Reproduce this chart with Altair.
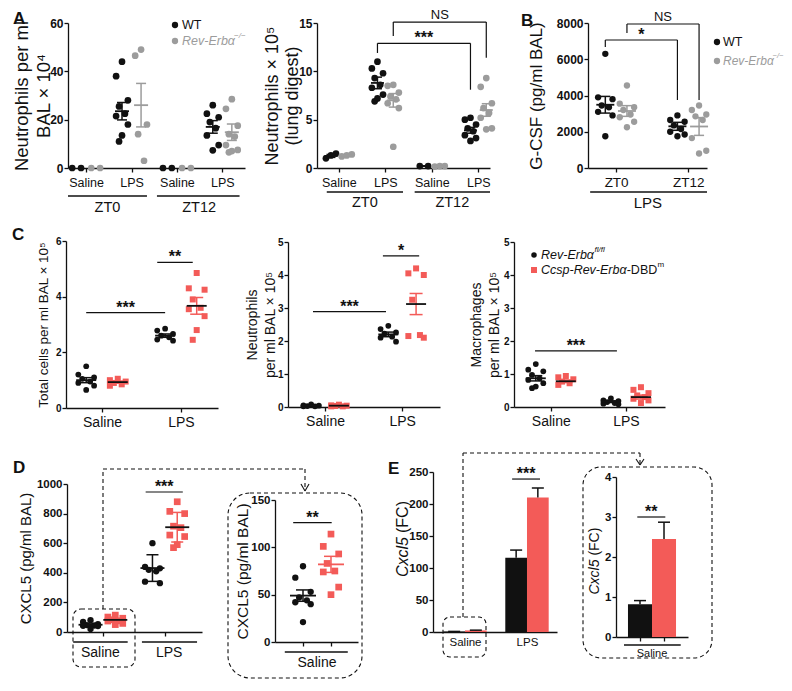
import altair as alt
import pandas as pd

FONT = "Liberation Sans"
INK = "#111111"
GREY = "#9c9c9c"
RED = "#f35b58"
ONE = pd.DataFrame({"k": [0]})
CW, CH = 776, 675          # canvas (page minus 8px margin each side)
OX, OY = 8, 8

# ---------------- data ----------------
A1_LABELS = ["Saline", "LPS", "Saline", "LPS"]
A1_WT = [[0, 0], [44, 38, 28, 25.5, 22.5, 21.5, 18, 13.5, 11], [0, 0],
         [26, 22.5, 21, 19, 16.5, 13.5, 9.5, 7.3]]
A1_KO = [[0, 0], [49, 46.5, 18, 14, 3], [0, 0],
         [28.5, 24.5, 17.5, 14, 13, 9.5, 7.5, 7, 6.5]]
A1_WT_MEAN = [0, 23.5, 0, 17.0]
A1_WT_SEM = [0, 3.6, 0, 2.6]
A1_KO_MEAN = [0, 26.0, 0, 14.8]
A1_KO_SEM = [0, 9.0, 0, 3.4]

A2_WT = [[1.0, 1.3, 1.5], [11.0, 10.3, 9.8, 9.3, 8.6, 8.3, 7.6, 7.2, 6.9], [0.2, 0.2],
         [5.2, 5.0, 4.5, 4.1, 3.8, 3.4, 3.1, 2.8]]
A2_KO = [[1.2, 1.3, 1.4], [8.6, 8.5, 7.8, 7.4, 7.1, 6.7, 6.2, 2.2], [0.15, 0.2, 0.2],
         [9.3, 8.4, 6.7, 6.2, 5.7, 5.2, 4.1, 4.0]]
A2_WT_MEAN = [1.25, 8.8, 0.2, 3.9]
A2_WT_SEM = [0.15, 0.6, 0.0, 0.3]
A2_KO_MEAN = [1.3, 7.0, 0.18, 6.0]
A2_KO_SEM = [0.05, 0.7, 0.0, 0.65]

B_LABELS = ["ZT0", "ZT12"]
B_WT = [[6300, 3900, 3800, 3450, 3350, 3100, 2900, 1750],
        [2900, 2650, 2550, 2350, 2150, 2000, 1850, 1750]]
B_KO = [[4550, 3550, 3350, 3200, 2950, 2800, 2550, 2250],
        [3450, 3200, 2950, 2850, 2650, 1650, 950, 800]]
B_WT_MEAN = [3490, 2300]
B_WT_SEM = [460, 220]
B_KO_MEAN = [3145, 2290]
B_KO_SEM = [295, 490]

C_LABELS = ["Saline", "LPS"]
C1_WT = [[1.5, 1.2, 1.1, 1.05, 0.95, 0.9, 0.8, 0.65], [2.85, 2.78, 2.66, 2.6, 2.54, 2.46, 2.42]]
C1_KO = [[1.05, 1.0, 0.95, 0.9, 0.85, 0.8], [4.85, 4.3, 4.25, 3.9, 3.6, 3.55, 3.3, 2.8, 2.45]]
C1_WT_MEAN = [1.0, 2.6]
C1_WT_SEM = [0.09, 0.06]
C1_KO_MEAN = [0.93, 3.67]
C1_KO_SEM = [0.04, 0.3]

C2_WT = [[0.08, 0.05, 0.04, 0.03, 0.02, 0.02], [2.46, 2.36, 2.26, 2.22, 2.13, 2.1, 1.98]]
C2_KO = [[0.07, 0.05, 0.04, 0.03, 0.02, 0.02], [4.2, 4.05, 4.0, 3.25, 2.18, 2.15, 2.1]]
C2_WT_MEAN = [0.04, 2.2]
C2_WT_SEM = [0.01, 0.07]
C2_KO_MEAN = [0.04, 3.12]
C2_KO_SEM = [0.01, 0.32]

C3_WT = [[1.3, 1.13, 1.08, 0.97, 0.87, 0.82, 0.72, 0.62, 0.57], [0.26, 0.2, 0.18, 0.15, 0.12, 0.1, 0.08]]
C3_KO = [[0.94, 0.9, 0.84, 0.77, 0.72, 0.67], [0.6, 0.52, 0.42, 0.35, 0.3, 0.25, 0.2, 0.12]]
C3_WT_MEAN = [0.87, 0.16]
C3_WT_SEM = [0.08, 0.025]
C3_KO_MEAN = [0.78, 0.3]
C3_KO_SEM = [0.04, 0.06]

D_WT_SAL = [80, 68, 53, 47, 44, 42, 40, 21]
D_KO_SAL = [114, 101, 93, 83, 75, 74, 58, 50]
D_WT_LPS = [600, 440, 430, 420, 410, 340, 330]
D_KO_LPS = [880, 815, 800, 715, 705, 655, 645, 590, 570]
D_WT_MEAN = [49, 432]
D_WT_ERR = [6, 90]
D_KO_MEAN = [82, 708]
D_KO_ERR = [8.5, 100]

E_LABELS = ["Saline", "LPS"]
E_WT = [0.82, 116]
E_WT_ERR = [0.09, 12]
E_KO = [2.45, 210]
E_KO_ERR = [0.42, 15]


# ---------------- helpers ----------------
def frame(x0, y0, x1, y1):
    return (x0 - OX, y0 - OY, x1 - OX, y1 - OY)


JIT = [0.0, -1.0, 1.0, -0.5, 0.5, -1.0, 1.0, 0.0, -0.5, 0.5]


def spread_x(vals, c, s):
    n = len(vals)
    if n == 2:
        pat = [-0.75, 0.75]
    elif n == 3:
        pat = [-0.9, 0.0, 0.9]
    else:
        order = sorted(range(n), key=lambda i: -vals[i])
        pat = [0.0] * n
        for r, i in enumerate(order):
            pat[i] = JIT[r % len(JIT)]
    return [c + p * s for p in pat]


def pts_df(groups, sign, goff, spread):
    rows = []
    for gi, vals in enumerate(groups):
        c = gi + sign * goff
        for xv, yv in zip(spread_x(vals, c, spread), vals):
            rows.append({"x": xv, "y": yv})
    return pd.DataFrame(rows)


def stats_df(means, errs, sign, goff, mhw, chw):
    rows = []
    for gi, (m, e) in enumerate(zip(means, errs)):
        if m == 0 and e == 0:
            continue
        x = gi + sign * goff
        rows.append(dict(x=x, m=m, lo=m - e, hi=m + e, ml=x - mhw, mr=x + mhw,
                         cl=x - chw, cr=x + chw))
    return pd.DataFrame(rows)


def axes(F, xdom, ydom, yticks, ytitle, ytsize, ytpad, ylsize, xvals, xlabels=None,
         xlsize=12, xlpad=4, xticks=True, ytlh=None):
    x0, y0, x1, y1 = F
    if xlabels is not None:
        mids = [(xvals[i] + xvals[i + 1]) / 2 for i in range(len(xvals) - 1)]
        expr = f"'{xlabels[-1]}'"
        for i in range(len(mids) - 1, -1, -1):
            expr = f"datum.value < {mids[i]} ? '{xlabels[i]}' : ({expr})"
        xaxis = alt.Axis(orient="bottom", offset=y1 - CH, values=xvals, labelExpr=expr, title="",
                         labelFontSize=xlsize, labelPadding=xlpad, ticks=xticks, tickSize=4,
                         labelOverlap=False, labelFlush=False, labelFontWeight="normal",
                         labelBound=False)
    else:
        xaxis = alt.Axis(orient="bottom", offset=y1 - CH, values=xvals, labels=False, title="",
                         ticks=xticks, tickSize=4)
    ykw = dict(orient="left", offset=-x0, values=yticks, title=ytitle, titleFontSize=ytsize,
               titlePadding=ytpad, labelFontSize=ylsize, labelFontWeight="bold", tickSize=4,
               labelPadding=1, labelOverlap=False, format="d")
    if ytlh:
        ykw["titleLineHeight"] = ytlh
    yaxis = alt.Axis(**ykw)
    xs = alt.Scale(domain=xdom, range=[x0, x1], nice=False, zero=False)
    ys = alt.Scale(domain=ydom, range=[y1, y0], nice=False, zero=False)

    def X(f):
        return alt.X(f, type="quantitative", scale=xs, axis=xaxis)

    def Y(f):
        return alt.Y(f, type="quantitative", scale=ys, axis=yaxis)
    return X, Y


def point_layer(X, Y, df, color, size, shape="circle"):
    base = alt.Chart(df)
    mk = base.mark_square(color=color, size=size, opacity=1) if shape == "square" \
        else base.mark_circle(color=color, size=size, opacity=1)
    return mk.encode(x=X("x"), y=Y("y"))


def stat_layers(X, Y, st, line_color, err_color, lw=1.5):
    if len(st) == 0:
        return []
    b = alt.Chart(st)
    return [
        b.mark_rule(color=err_color, strokeWidth=lw).encode(x=X("x"), y=Y("lo"), y2="hi"),
        b.mark_rule(color=err_color, strokeWidth=lw).encode(x=X("cl"), x2="cr", y=Y("lo")),
        b.mark_rule(color=err_color, strokeWidth=lw).encode(x=X("cl"), x2="cr", y=Y("hi")),
        b.mark_rule(color=line_color, strokeWidth=lw + 0.3).encode(x=X("ml"), x2="mr", y=Y("m")),
    ]


def seg_layer(X, Y, segs, width=1.2):
    df = pd.DataFrame(segs, columns=["x", "y", "x2", "y2"])
    return alt.Chart(df).mark_rule(color=INK, strokeWidth=width).encode(
        x=X("x"), y=Y("y"), x2="x2", y2="y2")


def star_layer(X, Y, items, size=16, dy=0, weight="bold"):
    df = pd.DataFrame(items, columns=["x", "y", "t"])
    return alt.Chart(df).mark_text(font=FONT, fontSize=size, fontWeight=weight, color=INK,
                                   baseline="alphabetic", dy=dy).encode(
        x=X("x"), y=Y("y"), text="t:N")


def under_layer(X, F, items, dy):
    df = pd.DataFrame(items, columns=["a", "b"])
    return alt.Chart(df).mark_rule(color=INK, strokeWidth=1.3).encode(
        x=X("a"), x2="b", y=alt.value(F[1] + dy))


def glabel_layer(X, F, items, dy, size):
    df = pd.DataFrame(items, columns=["x", "t"])
    return alt.Chart(df).mark_text(font=FONT, fontSize=size, baseline="middle", color=INK).encode(
        x=X("x"), y=alt.value(F[1] + dy), text="t:N")


def ptext(text, F, dx, dy, size, align="left", baseline="middle", weight="normal",
          style="normal", angle=0, color=INK):
    return alt.Chart(ONE).mark_text(text=text, font=FONT, fontSize=size, align=align,
                                    baseline=baseline, fontWeight=weight, fontStyle=style,
                                    angle=angle, color=color).encode(
        x=alt.value(F[0] + dx), y=alt.value(F[1] + dy))


def pdot(F, dx, dy, color, shape="circle", size=40):
    return alt.Chart(ONE).mark_point(shape=shape, filled=True, color=color, size=size,
                                     opacity=1).encode(x=alt.value(F[0] + dx), y=alt.value(F[1] + dy))


def pline(F, ax, ay, bx, by, dash=True):
    kw = dict(color=INK, strokeWidth=1.1)
    if dash:
        kw["strokeDash"] = [4, 3]
    return alt.Chart(ONE).mark_rule(**kw).encode(
        x=alt.value(F[0] + ax), y=alt.value(F[1] + ay), x2=alt.value(F[0] + bx), y2=alt.value(F[1] + by))


def pbox(F, ax, ay, bx, by, r):
    return alt.Chart(ONE).mark_rect(fillOpacity=0, stroke=INK, strokeWidth=1.1,
                                    strokeDash=[4, 3], cornerRadius=r).encode(
        x=alt.value(F[0] + ax), x2=alt.value(F[0] + bx), y=alt.value(F[1] + ay), y2=alt.value(F[1] + by))


def letter(t, F, dx, dy):
    return ptext(t, F, dx, dy, 17, baseline="alphabetic", weight="bold")


def scatter_layers(X, Y, wt, ko, wtm, wte, kom, koe, goff, spread, ppu, mhw, chw,
                   ko_color, ko_shape, size_wt, size_ko, ko_line, ko_err):
    L = [point_layer(X, Y, pts_df(wt, -1, goff, spread), INK, size_wt),
         point_layer(X, Y, pts_df(ko, 1, goff, spread), ko_color, size_ko, ko_shape)]
    L += stat_layers(X, Y, stats_df(wtm, wte, -1, goff, mhw / ppu, chw / ppu), INK, INK)
    L += stat_layers(X, Y, stats_df(kom, koe, 1, goff, mhw / ppu, chw / ppu), ko_line, ko_err)
    return L


def ppu_of(F, dom):
    return (F[2] - F[0]) / (dom[1] - dom[0])


panels = []

# ---------------- Panel A1 ----------------
F = frame(68, 23, 245, 168)
dom = [-0.4, 3.5]
X, Y = axes(F, dom, [0, 60], [0, 20, 40, 60], ["Neutrophils per ml", "BAL × 10⁴"], 18.5, -4, 12,
            [0, 1, 2, 3], A1_LABELS, 12.5, 4, True, 22)
L = scatter_layers(X, Y, A1_WT, A1_KO, A1_WT_MEAN, A1_WT_SEM, A1_KO_MEAN, A1_KO_SEM,
                   0.21, 0.13, ppu_of(F, dom), 7, 5, GREY, "circle", 45, 45, GREY, GREY)
L += [under_layer(X, F, [(-0.40, 1.34), (1.56, 3.38)], 173),
      glabel_layer(X, F, [(0.47, "ZT0"), (2.49, "ZT12")], 185, 14.5),
      pdot(F, 107, 2, INK), ptext("WT", F, 114, 2, 12.5),
      pdot(F, 107, 18, GREY), ptext("Rev-Erbα", F, 114, 18, 12.5, style="italic", color=GREY),
      ptext("−/−", F, 166, 13, 8, style="italic", color=GREY),
      letter("A", F, -55, 1)]
panels.append(alt.layer(*L))

# ---------------- Panel A2 ----------------
F = frame(317, 23, 490, 168)
dom = [-0.47, 3.25]
X, Y = axes(F, dom, [0, 15], [0, 5, 10, 15], ["Neutrophils × 10⁵", "(lung digest)"], 18, -3.3, 12,
            [0, 1, 2, 3], A1_LABELS, 12.5, 4, True, 20)
L = scatter_layers(X, Y, A2_WT, A2_KO, A2_WT_MEAN, A2_WT_SEM, A2_KO_MEAN, A2_KO_SEM,
                   0.17, 0.12, ppu_of(F, dom), 6.5, 4.5, GREY, "circle", 45, 45, GREY, GREY)
L += [seg_layer(X, Y, [(0.83, 11.9, 0.83, 12.9), (0.83, 12.9, 2.83, 12.9), (2.83, 12.9, 2.83, 8.1),
                       (1.17, 13.65, 1.17, 15.1), (1.17, 15.1, 3.17, 15.1), (3.17, 15.1, 3.17, 11.4)]),
      star_layer(X, Y, [(1.83, 12.9, "***")]),
      star_layer(X, Y, [(2.17, 15.1, "NS")], size=13, dy=-3, weight="normal"),
      under_layer(X, F, [(-0.26, 1.38), (1.63, 3.25)], 169),
      glabel_layer(X, F, [(0.56, "ZT0"), (2.44, "ZT12")], 180, 14.5)]
panels.append(alt.layer(*L))

# ---------------- Panel B ----------------
F = frame(588, 23, 707, 168)
dom = [-0.39, 1.26]
X, Y = axes(F, dom, [0, 8000], [0, 2000, 4000, 6000, 8000], "G-CSF (pg/ml BAL)", 17, 10.5, 12,
            [0, 1], B_LABELS, 13.5, 3)
L = scatter_layers(X, Y, B_WT, B_KO, B_WT_MEAN, B_WT_SEM, B_KO_MEAN, B_KO_SEM,
                   0.15, 0.1, ppu_of(F, dom), 9, 5, GREY, "circle", 40, 40, GREY, GREY)
L += [seg_layer(X, Y, [(-0.15, 6676, -0.15, 7062), (-0.15, 7062, 0.85, 7062), (0.85, 7062, 0.85, 3752),
                       (0.15, 7448, 0.15, 7945), (0.15, 7945, 1.15, 7945), (1.15, 7945, 1.15, 3752)]),
      star_layer(X, Y, [(0.35, 7062, "*")]),
      star_layer(X, Y, [(0.65, 7945, "NS")], size=13, dy=-3, weight="normal"),
      under_layer(X, F, [(-0.36, 1.26)], 169),
      glabel_layer(X, F, [(0.44, "LPS")], 180, 15),
      pdot(F, 129, 19, INK), ptext("WT", F, 135, 19, 12.5),
      pdot(F, 129, 38, GREY), ptext("Rev-Erbα", F, 135, 38, 12, style="italic", color=GREY),
      ptext("−/−", F, 184.5, 33, 7.5, style="italic", color=GREY),
      letter("B", F, -67, 3)]
panels.append(alt.layer(*L))

# ---------------- Panel C1 ----------------
F = frame(66, 241, 218, 408)
dom = [-0.456, 1.47]
X, Y = axes(F, dom, [0, 6], [0, 2, 4, 6], "Total cells per ml BAL × 10⁵", 13.5, 5, 10,
            [0, 1], C_LABELS, 14, 3)
L = scatter_layers(X, Y, C1_WT, C1_KO, C1_WT_MEAN, C1_WT_SEM, C1_KO_MEAN, C1_KO_SEM,
                   0.2, 0.1, ppu_of(F, dom), 10, 6.5, RED, "square", 33, 36, INK, RED)
L += [seg_layer(X, Y, [(-0.2, 3.43, 0.8, 3.43), (0.70, 5.23, 1.15, 5.23)]),
      star_layer(X, Y, [(0.3, 3.43, "***"), (0.925, 5.23, "**")]),
      letter("C", F, -54, -1)]
panels.append(alt.layer(*L))

# ---------------- Panel C2 ----------------
F = frame(288, 242, 440, 407)
dom = [-0.48, 1.49]
X, Y = axes(F, dom, [0, 5], [0, 1, 2, 3, 4, 5], ["Neutrophils", "per ml BAL × 10⁵"], 14, 0, 10,
            [0, 1], C_LABELS, 14, 3, True, 18)
L = scatter_layers(X, Y, C2_WT, C2_KO, C2_WT_MEAN, C2_WT_SEM, C2_KO_MEAN, C2_KO_SEM,
                   0.18, 0.1, ppu_of(F, dom), 10, 6.5, RED, "square", 33, 36, INK, RED)
L += [seg_layer(X, Y, [(-0.156, 2.89, 0.79, 2.89), (0.75, 4.58, 1.22, 4.58)]),
      star_layer(X, Y, [(0.317, 2.89, "***"), (0.985, 4.58, "*")])]
panels.append(alt.layer(*L))

# ---------------- Panel C3 ----------------
F = frame(514, 242, 665, 407)
dom = [-0.49, 1.52]
X, Y = axes(F, dom, [0, 5], [0, 1, 2, 3, 4, 5], ["Macrophages", "per ml BAL × 10⁵"], 14, 2, 10,
            [0, 1], C_LABELS, 14, 3, True, 18)
L = scatter_layers(X, Y, C3_WT, C3_KO, C3_WT_MEAN, C3_WT_SEM, C3_KO_MEAN, C3_KO_SEM,
                   0.2, 0.1, ppu_of(F, dom), 10, 6.5, RED, "square", 33, 36, INK, RED)
L += [seg_layer(X, Y, [(-0.21, 1.7, 0.88, 1.7)]),
      star_layer(X, Y, [(0.335, 1.7, "***")]),
      pdot(F, 20, 13, INK, size=30), ptext("Rev-Erbα", F, 27, 13, 12.5, style="italic"),
      ptext("fl/fl", F, 80.5, 8, 8, style="italic"),
      pdot(F, 20, 28, RED, shape="square", size=36),
      ptext("Ccsp-Rev-Erbα", F, 27, 28, 12.5, style="italic"),
      ptext("-DBD", F, 112.7, 28, 12.5),
      ptext("m", F, 143.5, 23, 8)]
panels.append(alt.layer(*L))

# ---------------- Panel D1 ----------------
F = frame(67, 484, 202, 632)
dom = [-0.58, 1.6]
X, Y = axes(F, dom, [0, 1000], [0, 200, 400, 600, 800, 1000], "CXCL5 (pg/ml BAL)", 15, 2.5, 11.5,
            [0, 1])
L = scatter_layers(X, Y, [D_WT_SAL, D_WT_LPS], [D_KO_SAL, D_KO_LPS], D_WT_MEAN, D_WT_ERR,
                   D_KO_MEAN, D_KO_ERR, 0.2, 0.12, ppu_of(F, dom), 12, 6, RED, "square", 40, 45,
                   INK, RED)
L += [seg_layer(X, Y, [(0.69, 946, 1.29, 946)]),
      star_layer(X, Y, [(0.99, 946, "***")]),
      under_layer(X, F, [(-0.48, 0.40), (0.63, 1.52)], 158),
      glabel_layer(X, F, [(-0.04, "Saline"), (1.07, "LPS")], 169, 14),
      pbox(F, 6, 125, 68, 183, 8),
      pline(F, 36, 125, 36, -15), pline(F, 36, -15, 238, -15), pline(F, 238, -15, 238, 6),
      pline(F, 234, 0, 238, 7, dash=False), pline(F, 238, 7, 242, 0, dash=False),
      letter("D", F, -54, -11)]
panels.append(alt.layer(*L))

# ---------------- Panel D2 (inset) ----------------
F = frame(275, 500, 358, 642)
dom = [-0.6, 0.586]
X, Y = axes(F, dom, [0, 150], [0, 50, 100, 150], "CXCL5 (pg/ml BAL)", 15.5, 0, 11.5, [-0.2, 0.2])
L = scatter_layers(X, Y, [D_WT_SAL], [D_KO_SAL], D_WT_MEAN[:1], D_WT_ERR[:1], D_KO_MEAN[:1],
                   D_KO_ERR[:1], 0.2, 0.11, ppu_of(F, dom), 13, 7, RED, "square", 40, 45, RED, RED)
L += [seg_layer(X, Y, [(-0.34, 126, 0.21, 126)]),
      star_layer(X, Y, [(-0.065, 126, "**")]),
      under_layer(X, F, [(-0.46, 0.44)], 152),
      glabel_layer(X, F, [(0.0, "Saline")], 163, 14),
      pbox(F, -47, -7, 87, 178, 22)]
panels.append(alt.layer(*L))


def bar_layers(X, Y, wt, wte, ko, koe, bw, chw):
    wrows, krows, erows = [], [], []
    for gi in range(len(wt)):
        wrows.append(dict(xa=gi - bw, xb=gi, v=wt[gi]))
        krows.append(dict(xa=gi, xb=gi + bw, v=ko[gi]))
        for cx, v, e in ((gi - bw / 2, wt[gi], wte[gi]), (gi + bw / 2, ko[gi], koe[gi])):
            erows.append(dict(x=cx, v=v, t=v + e, cl=cx - chw, cr=cx + chw))
    edf = pd.DataFrame(erows)
    return [
        alt.Chart(pd.DataFrame(wrows)).mark_bar(color=INK, opacity=1).encode(
            x=X("xa"), x2="xb", y=Y("v"), y2=alt.datum(0)),
        alt.Chart(pd.DataFrame(krows)).mark_bar(color=RED, opacity=1).encode(
            x=X("xa"), x2="xb", y=Y("v"), y2=alt.datum(0)),
        alt.Chart(edf).mark_rule(color=INK, strokeWidth=1.5).encode(x=X("x"), y=Y("v"), y2="t"),
        alt.Chart(edf).mark_rule(color=INK, strokeWidth=1.5).encode(x=X("cl"), x2="cr", y=Y("t")),
    ]


# ---------------- Panel E1 ----------------
F = frame(433, 472, 557, 632)
dom = [-0.516, 1.484]
X, Y = axes(F, dom, [0, 250], [0, 50, 100, 150, 200, 250], "", 16, 0, 11.5, [0, 1], E_LABELS,
            11.5, 4, False)
L = bar_layers(X, Y, E_WT, E_WT_ERR, E_KO, E_KO_ERR, 0.35, 6 / ppu_of(F, dom))
L += [seg_layer(X, Y, [(0.76, 239, 1.21, 239)]),
      star_layer(X, Y, [(0.985, 239, "***")]),
      ptext("Cxcl5", F, -30, 65, 16, align="right", style="italic", angle=270),
      ptext("(FC)", F, -30, 61, 16, align="left", angle=270),
      pbox(F, 10, 145, 53, 185, 7),
      pline(F, 30, 145, 30, -19), pline(F, 30, -19, 207, -19), pline(F, 207, -19, 207, -7),
      pline(F, 203, -13, 207, -7, dash=False), pline(F, 207, -7, 211, -13, dash=False),
      letter("E", F, -45, 2)]
panels.append(alt.layer(*L))

# ---------------- Panel E2 (inset) ----------------
F = frame(616, 477, 688, 637)
dom = [-0.514, 0.514]
X, Y = axes(F, dom, [0, 4], [0, 1, 2, 3, 4], "", 14, 0, 11.5, [-0.17, 0.17])
L = bar_layers(X, Y, E_WT[:1], E_WT_ERR[:1], E_KO[:1], E_KO_ERR[:1], 0.343, 6 / ppu_of(F, dom))
L += [seg_layer(X, Y, [(-0.21, 3.0, 0.19, 3.0)]),
      star_layer(X, Y, [(-0.01, 3.0, "**")]),
      under_layer(X, F, [(-0.4, 0.41)], 168),
      glabel_layer(X, F, [(0.0, "Saline")], 177, 11),
      ptext("Cxcl5", F, -21, 82.5, 14, align="right", style="italic", angle=270),
      ptext("(FC)", F, -21, 78.6, 14, align="left", angle=270),
      pbox(F, -33, -10, 96, 181, 18)]
panels.append(alt.layer(*L))

# ---------------- compose on a single canvas ----------------
chart = alt.layer(*panels).resolve_scale(x="independent", y="independent").resolve_axis(
    x="independent", y="independent").properties(
    width=CW, height=CH, padding=0, autosize=alt.AutoSizeParams(type="none")).configure_view(
    stroke=None).configure_axis(
    domainColor=INK, tickColor=INK, labelColor=INK, titleColor=INK, domainWidth=1.3,
    tickWidth=1.3, grid=False, labelFont=FONT, titleFont=FONT, titleFontWeight="normal")

chart.save("out.html", embed_options={"renderer": "svg", "actions": False})
